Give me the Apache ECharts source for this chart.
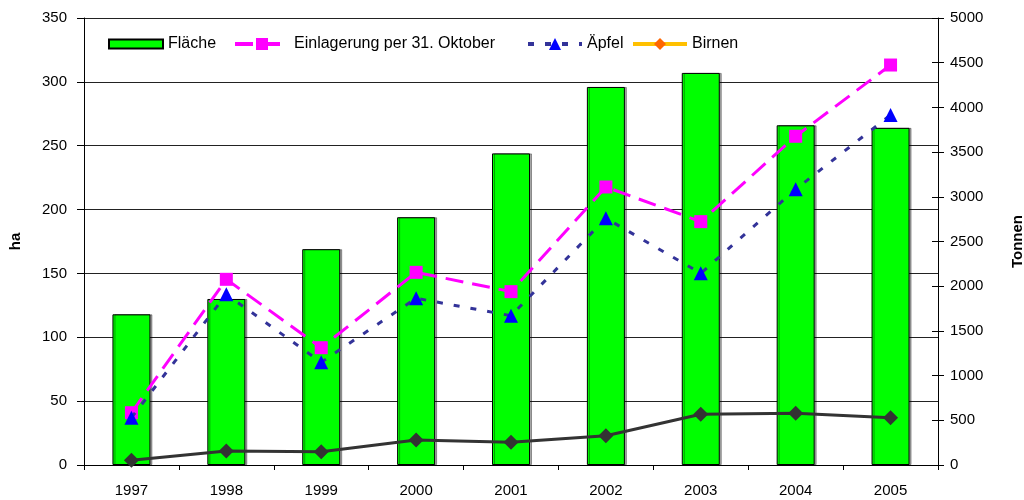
<!DOCTYPE html>
<html>
<head>
<meta charset="utf-8">
<script src="https://cdn.jsdelivr.net/npm/echarts@6/dist/echarts.min.js"></script>
<style>
  html, body { margin: 0; padding: 0; background: #fff; }
  #chart { width: 1024px; height: 500px; }
</style>
</head>
<body>
<div id="chart"></div>
<script>
// Jahre (x-Achse)
var years = ['1997', '1998', '1999', '2000', '2001', '2002', '2003', '2004', '2005']
// Fläche in ha (linke Achse)
var flaeche = [118, 130, 169, 194, 244, 296, 307, 266, 264]
// Tonnen (rechte Achse)
var einlagerung = [585, 2077, 1312, 2155, 1939, 3110, 2722, 3677, 4474]
var aepfel = [529, 1909, 1149, 1865, 1670, 2760, 2144, 3084, 3915]
var birnen = [52, 157, 149, 280, 254, 328, 567, 578, 529]

var font = 'Liberation Sans, Arial, sans-serif'
var legendText = { fontFamily: font, fontSize: 16, color: '#000' }

// eine Legende pro Eintrag, damit die Abstände wie im Original sitzen
function legendItem(left, item, h) {
  return {
    left: left,
    top: 36,
    padding: 0,
    itemWidth: 54,
    itemHeight: h,
    height: 18,
    textStyle: legendText,
    data: [item]
  }
}

var chart = echarts.init(document.getElementById('chart'))
chart.setOption({
  animation: false,
  grid: {
    left: 84,
    right: 86,
    top: 18,
    bottom: 35,
    containLabel: false,
    outerBoundsMode: 'none'
  },
  legend: [
    legendItem(108, { name: 'Fläche', icon: 'rect' }, 9),
    legendItem(233, { name: 'Einlagerung per 31. Oktober', lineStyle: { width: 4 } }, 15),
    legendItem(526, { name: 'Äpfel', lineStyle: { width: 4 } }, 15),
    legendItem(631, {
      name: 'Birnen',
      itemStyle: { color: '#FF6600' },
      lineStyle: { color: '#FFC000', type: 'solid', width: 4 }
    }, 15)
  ],
  xAxis: {
    type: 'category',
    data: years,
    axisLine: { lineStyle: { color: '#000' } },
    axisTick: { show: true, alignWithLabel: false, length: 5, lineStyle: { color: '#000' } },
    axisLabel: { fontFamily: font, fontSize: 15, color: '#000', margin: 18 }
  },
  yAxis: [
    {
      type: 'value',
      name: 'ha',
      nameLocation: 'middle',
      nameGap: 61,
      nameRotate: 90,
      nameTextStyle: { fontFamily: font, fontSize: 15, fontWeight: 'bold', color: '#000' },
      min: 0,
      max: 350,
      interval: 50,
      axisLine: { show: true, lineStyle: { color: '#000' } },
      axisTick: { show: true, length: 7, lineStyle: { color: '#000' } },
      axisLabel: { fontFamily: font, fontSize: 15, color: '#000', margin: 17 },
      splitLine: { show: true, lineStyle: { color: '#222', width: 1 } }
    },
    {
      type: 'value',
      name: 'Tonnen',
      nameLocation: 'middle',
      nameGap: 72,
      nameRotate: 90,
      nameTextStyle: { fontFamily: font, fontSize: 15, fontWeight: 'bold', color: '#000' },
      position: 'right',
      min: 0,
      max: 5000,
      interval: 500,
      axisLine: { show: true, lineStyle: { color: '#000' } },
      axisTick: { show: true, length: 6, lineStyle: { color: '#000' } },
      axisLabel: {
        fontFamily: font, fontSize: 15, color: '#000', margin: 12,
        formatter: function (v) { return String(v) }
      },
      splitLine: { show: false }
    },
    {
      // Innenseite der Teilstriche rechts (Kreuz-Ticks)
      type: 'value',
      position: 'right',
      min: 0,
      max: 5000,
      interval: 500,
      axisLine: { show: false },
      axisTick: { show: true, inside: true, length: 6, lineStyle: { color: '#000' } },
      axisLabel: { show: false },
      splitLine: { show: false }
    }
  ],
  series: [
    {
      name: 'Fläche',
      type: 'bar',
      yAxisIndex: 0,
      data: flaeche,
      barWidth: 38,
      itemStyle: {
        color: '#00FF00',
        borderColor: '#000',
        borderWidth: 1,
        shadowColor: 'rgba(0,0,0,0.35)',
        shadowOffsetX: 2,
        shadowOffsetY: 0
      }
    },
    {
      name: 'Einlagerung per 31. Oktober',
      type: 'line',
      yAxisIndex: 1,
      data: einlagerung,
      symbol: 'rect',
      symbolSize: 13,
      itemStyle: { color: '#FF00FF' },
      lineStyle: { color: '#FF00FF', width: 3, type: [18, 9] },
      z: 3
    },
    {
      name: 'Äpfel',
      type: 'line',
      yAxisIndex: 1,
      data: aepfel,
      symbol: 'triangle',
      symbolSize: 14,
      itemStyle: { color: '#0000FF' },
      lineStyle: { color: '#333399', width: 3, type: [6, 11] },
      z: 4
    },
    {
      name: 'Birnen',
      type: 'line',
      yAxisIndex: 1,
      data: birnen,
      symbol: 'diamond',
      symbolSize: 15,
      itemStyle: { color: '#333333' },
      lineStyle: { color: '#333333', width: 3 },
      z: 5
    }
  ]
})
</script>
</body>
</html>
